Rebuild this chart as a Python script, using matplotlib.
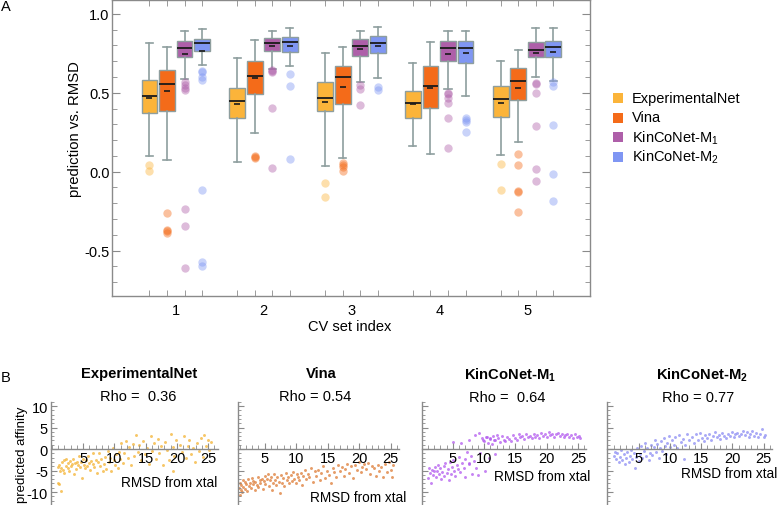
import matplotlib
matplotlib.use('Agg')
import matplotlib.pyplot as plt
from matplotlib.patches import Rectangle
from matplotlib.ticker import FixedLocator, MultipleLocator, FuncFormatter, NullFormatter

plt.rcParams['font.family'] = ['Liberation Sans', 'DejaVu Sans']
plt.rcParams['mathtext.fontset'] = 'custom'
plt.rcParams['mathtext.rm'] = 'Liberation Sans'
plt.rcParams['mathtext.bf'] = 'Liberation Sans:bold'
plt.rcParams['mathtext.it'] = 'Liberation Sans:italic'
plt.rcParams['axes.unicode_minus'] = False

# ---------------- data: panel A (box statistics per CV set) ----------------
cv_sets = [1, 2, 3, 4, 5]
series_names = ['ExperimentalNet', 'Vina', 'KinCoNet-M$_{\\mathregular{1}}$', 'KinCoNet-M$_{\\mathregular{2}}$']

exp_q1 = [0.371, 0.340, 0.382, 0.340, 0.344]
exp_med = [0.477, 0.445, 0.468, 0.432, 0.460]
exp_q3 = [0.582, 0.527, 0.565, 0.513, 0.540]
exp_lo = [0.097, 0.063, 0.038, 0.160, 0.105]
exp_hi = [0.814, 0.717, 0.749, 0.686, 0.703]
exp_mean = [0.464, 0.428, 0.439, 0.428, 0.432]
exp_out = [[0.042, 0.006], [], [-0.072, -0.162], [], [0.049, -0.116]]

vina_q1 = [0.382, 0.492, 0.428, 0.401, 0.454]
vina_med = [0.553, 0.608, 0.597, 0.540, 0.576]
vina_q3 = [0.643, 0.698, 0.667, 0.671, 0.654]
vina_lo = [0.076, 0.243, 0.084, 0.110, 0.186]
vina_hi = [0.787, 0.835, 0.787, 0.819, 0.772]
vina_mean = [0.508, 0.591, 0.538, 0.527, 0.532]
vina_out = [[-0.260, -0.367, -0.378, -0.388], [0.101, 0.090, 0.084],
            [0.055, 0.042, 0.027, 0.006], [], [0.112, 0.042, -0.120, -0.127, -0.257]]

m1_q1 = [0.728, 0.766, 0.730, 0.698, 0.724]
m1_med = [0.781, 0.812, 0.793, 0.781, 0.772]
m1_q3 = [0.825, 0.844, 0.842, 0.829, 0.819]
m1_lo = [0.584, 0.650, 0.570, 0.523, 0.597]
m1_hi = [0.888, 0.892, 0.892, 0.892, 0.907]
m1_mean = [0.743, 0.793, 0.774, 0.745, 0.751]
m1_out = [[0.570, 0.550, 0.527, 0.519, -0.234, -0.342, -0.612],
          [0.643, 0.640, 0.633, 0.403, 0.021],
          [0.549, 0.523, 0.422],
          [0.496, 0.490, 0.464, 0.435, 0.338, 0.150],
          [0.559, 0.555, 0.498, 0.291, 0.017, -0.057]]

m2_q1 = [0.766, 0.759, 0.749, 0.688, 0.724]
m2_med = [0.814, 0.819, 0.812, 0.781, 0.787]
m2_q3 = [0.840, 0.850, 0.857, 0.829, 0.829]
m2_lo = [0.675, 0.671, 0.591, 0.481, 0.576]
m2_hi = [0.903, 0.907, 0.916, 0.892, 0.907]
m2_mean = [0.766, 0.797, 0.793, 0.751, 0.759]
m2_out = [[0.639, 0.634, 0.597, 0.582, -0.114, -0.570, -0.595],
          [0.618, 0.540, 0.080],
          [0.534, 0.517],
          [0.340, 0.325, 0.312, 0.253],
          [0.565, 0.540, 0.295, -0.015, -0.188]]

# ---------------- data: panel B (predicted affinity vs RMSD) ----------------
exp_x = [0.9, 1.0, 1.1, 1.2, 1.3, 1.4, 1.5, 1.6, 1.8, 1.9, 2.0, 2.2, 2.3, 2.5, 2.6, 2.8, 2.9, 3.1, 3.2, 3.4,
         3.5, 3.7, 3.9, 4.0, 4.2, 4.3, 4.5, 4.7, 4.8, 5.0, 5.1, 5.3, 5.5, 5.6, 5.8, 6.0, 6.1, 6.3, 6.5, 6.6,
         6.8, 7.0, 7.2, 7.4, 7.5, 7.7, 7.9, 8.1, 8.3, 8.5, 8.7, 8.9, 9.1, 9.3, 9.5, 9.7, 9.9, 10.1, 10.3, 10.5,
         10.7, 10.9, 11.1, 11.4, 11.6, 11.9, 12.1, 12.4, 12.7, 13.0, 13.2, 13.5, 13.8, 14.0, 14.3, 14.6, 14.9,
         15.2, 15.5, 15.8, 16.0, 16.3, 16.6, 16.9, 17.2, 17.5, 17.8, 18.1, 18.4, 18.7, 19.0, 19.3, 19.4, 19.6,
         19.9, 20.5, 20.8, 21.1, 21.4, 21.7, 22.0, 22.3, 22.6, 22.9, 23.2, 23.5, 23.8, 24.1, 24.4, 24.7, 25.0,
         25.2, 25.4]
exp_y = [-4.2, -7.8, -3.6, -8.2, -5.0, -4.4, -9.7, -3.1, -4.8, -2.6, -5.6, -3.9, -2.2, -4.5, -3.3, -5.2, -2.8,
         -4.0, -3.5, -2.4, -5.8, -3.2, -4.6, -2.9, -3.8, -1.6, -4.2, -3.0, -6.7, -2.3, -3.6, -4.4, -2.6, -3.9,
         -1.5, -3.2, -4.9, -2.8, -3.5, -1.0, -4.1, -2.5, -5.6, -3.0, -0.9, -4.0, -2.2, -5.2, -3.4, -1.8, -4.6,
         -0.4, -3.1, -2.0, -5.0, 0.3, -2.6, -3.8, -1.2, -4.3, -0.6, -2.3, 1.5, -3.3, -1.0, 1.8, -2.0, 0.4, -3.6,
         1.2, -1.5, 3.2, -0.8, 0.9, -2.5, 1.8, -1.2, 0.2, -3.5, 3.0, -0.5, 1.3, -2.2, 2.3, -1.0, 0.8, -3.8, 1.6,
         -0.3, -2.5, 3.6, 0.5, -5.0, -1.6, 2.2, 1.0, -0.8, 3.0, -2.0, 0.6, 2.1, -1.2, 0.3, -3.0, 1.4, -0.4, 2.6,
         -1.8, 3.3, 0.8, 2.0, -0.2, 1.6]

vina_x = [0.9, 1.0, 1.1, 1.2, 1.3, 1.4, 1.5, 1.6, 1.8, 1.9, 2.0, 2.2, 2.3, 2.5, 2.6, 2.8, 2.9, 3.1, 3.2, 3.4,
          3.5, 3.7, 3.9, 4.0, 4.2, 4.3, 4.5, 4.7, 4.8, 5.0, 5.1, 5.3, 5.5, 5.6, 5.8, 6.0, 6.1, 6.3, 6.5, 6.6,
          6.8, 7.0, 7.2, 7.4, 7.5, 7.7, 7.9, 8.1, 8.3, 8.5, 8.7, 8.9, 9.1, 9.3, 9.5, 9.7, 9.9, 10.1, 10.3, 10.5,
          10.7, 10.9, 11.1, 11.4, 11.6, 11.9, 12.1, 12.4, 12.7, 13.0, 13.2, 13.5, 13.8, 14.0, 14.3, 14.6, 14.9,
          15.2, 15.5, 15.8, 16.0, 16.3, 16.6, 16.9, 17.2, 17.5, 17.8, 18.1, 18.4, 18.7, 19.0, 19.3, 19.6, 19.9,
          20.2, 20.5, 20.8, 21.1, 21.4, 21.7, 22.0, 22.3, 22.6, 22.9, 23.2, 23.5, 23.8, 24.1, 24.4, 24.7, 25.0,
          25.2, 25.4]
vina_y = [-9.0, -10.6, -7.8, -9.5, -8.3, -10.0, -7.2, -8.8, -9.3, -7.6, -8.1, -9.8, -7.0, -8.6, -7.9, -9.1,
          -6.8, -8.2, -7.4, -9.6, -7.7, -8.4, -6.6, -8.9, -7.2, -8.0, -6.9, -9.2, -7.5, -6.3, -8.1, -7.0, -5.8,
          -8.6, -7.3, -6.5, -9.4, -7.8, -5.9, -7.1, -8.3, -6.4, -7.6, -10.2, -6.0, -7.9, -6.8, -8.5, -5.6, -7.2,
          -6.5, -8.0, -6.1, -7.4, -5.3, -6.9, -7.8, -5.9, -6.6, -7.3, -5.5, -8.3, -6.2, -4.8, -7.0, -5.7, -6.5,
          -4.4, -7.6, -5.2, -6.3, -4.9, -7.2, -5.6, -3.9, -6.8, -5.0, -6.0, -8.0, -4.3, -5.4, -6.6, -3.6, -5.1,
          -4.2, -6.2, -4.7, -3.4, -5.5, -4.0, -6.8, -3.8, -4.9, -3.1, -5.3, -4.1, -3.5, -4.6, -3.3, -5.8, -3.9,
          -4.4, -6.3, -3.7, -5.0, -4.2, -6.6, -3.5, -5.4, -3.0, -4.8, -6.4, -3.6]

m1_x = [1.0, 1.2, 1.3, 1.5, 1.6, 1.8, 2.0, 2.1, 2.3, 2.5, 2.6, 2.8, 3.0, 3.1, 3.3, 3.5, 3.6, 3.8, 4.0, 4.2,
        4.4, 4.5, 4.7, 4.9, 5.0, 5.0, 5.2, 5.4, 5.6, 5.8, 6.0, 6.1, 6.3, 6.5, 6.7, 6.9, 7.0, 7.2, 7.5, 7.5,
        7.6, 7.9, 8.0, 8.3, 8.5, 8.7, 9.0, 9.2, 9.4, 9.6, 9.8, 10.0, 10.2, 10.3, 10.4, 10.6, 10.8, 10.9, 11.0,
        11.2, 11.4, 11.5, 11.7, 11.8, 12.0, 12.2, 12.5, 12.8, 13.1, 13.4, 13.7, 14.0, 14.3, 14.6, 14.9, 15.2,
        15.5, 15.8, 16.1, 16.4, 16.7, 17.0, 17.3, 17.6, 17.9, 18.2, 18.5, 18.8, 19.1, 19.4, 19.7, 20.0, 20.3,
        20.6, 20.9, 21.2, 21.5, 21.8, 22.1, 22.4, 22.7, 23.0, 23.3, 23.6, 23.9, 24.2, 24.5, 24.8, 25.1, 25.4]
m1_y = [-6.8, -4.5, -5.6, -7.8, -4.9, -6.0, -5.2, -4.1, -6.5, -5.0, -3.6, -5.8, -4.4, -6.9, -5.3, -4.0, -6.2,
        -3.3, -5.5, -4.7, -7.3, -3.0, -5.9, -4.2, -2.5, 1.7, -5.1, -6.3, -3.8, -4.6, -1.8, -5.4, 1.4, -3.2,
        -4.3, -6.5, -2.4, -0.8, 2.2, -3.5, -3.2, -1.5, -5.8, -2.7, 3.3, -4.3, -6.0, 3.8, -1.0, 2.6, 2.2, 1.9,
        -5.2, 2.9, 2.8, 1.5, -2.0, 2.6, 2.3, 1.2, 3.0, 2.1, -1.2, 2.0, 3.3, 2.6, 1.6, 3.1, 2.2, 1.8, 2.9, 2.4,
        1.9, 3.2, 2.6, 2.0, 3.4, 2.7, 3.0, 2.3, 3.5, 2.8, 3.1, 2.5, 3.6, 2.9, 3.3, 2.6, 3.7, 3.0, 3.5, 2.8,
        3.9, 3.2, 3.6, 2.9, 3.4, 3.8, 3.1, 3.5, 2.7, 3.3, 3.6, 2.9, 3.2, 2.5, 3.4, 2.8, 3.0, 2.6]

m2_x = [1.0, 1.2, 1.4, 1.6, 1.8, 2.0, 2.2, 2.4, 2.6, 2.8, 3.0, 3.2, 3.4, 3.6, 3.8, 4.0, 4.2, 4.4, 4.6, 4.8,
        5.0, 5.2, 5.4, 5.6, 5.8, 6.0, 6.2, 6.4, 6.6, 6.8, 7.0, 7.2, 7.4, 7.6, 7.8, 8.0, 8.2, 8.4, 8.6, 8.8,
        9.0, 9.2, 9.4, 9.6, 9.8, 10.0, 10.3, 10.6, 10.9, 11.2, 11.5, 11.8, 12.1, 12.2, 12.4, 12.7, 13.0,
        13.6, 13.9, 14.2, 14.5, 14.8, 15.1, 15.4, 15.7, 16.0, 16.3, 16.6, 16.9, 17.2, 17.5, 17.8, 18.1, 18.4,
        18.7, 19.0, 19.3, 19.6, 19.9, 20.2, 20.5, 20.8, 21.1, 21.4, 21.7, 22.0, 22.3, 22.6, 22.9, 23.2, 23.5,
        23.8, 24.1, 24.4, 24.7, 25.0, 25.3]
m2_y = [-1.5, -0.6, -2.4, -1.0, -3.0, -1.8, -0.3, -2.6, -1.2, -3.4, -2.0, -0.8, -2.9, -1.5, -0.2, -2.3, -1.0,
        -4.5, -1.8, 0.3, -2.7, -1.2, 0.8, -2.0, -0.5, 1.3, -1.6, 0.2, -2.5, -0.9, 0.9, -1.4, 0.5, 2.0, -0.7,
        1.1, -2.0, 0.3, 1.8, -0.4, 2.5, 0.7, -1.1, 1.5, 3.0, 0.4, 2.1, 1.0, 2.8, 0.2, 3.3, 1.6, 2.4, -2.3, 0.9,
        3.5, 2.0, 2.9, 1.4, 3.4, 2.2, 3.8, 2.6, 1.8, 3.2, 2.5, 3.6, 2.0, 3.0, 3.9, 2.7, 3.3, 2.4, 3.7, 3.0, 2.6,
        3.5, 3.1, 4.0, 2.8, 3.4, 3.8, 3.0, 3.6, 4.2, 3.2, 3.9, 2.9, 3.5, 4.1, 3.0, 3.7, 2.7, 3.4, 4.6, 2.8, 3.3]

rho_values = ['0.36', '0.54', '0.64', '0.77']
panel_titles = ['ExperimentalNet', 'Vina', 'KinCoNet-M$_{\\mathbf{1}}$', 'KinCoNet-M$_{\\mathbf{2}}$']

# ---------------- style ----------------
box_colors = ['#FBB43A', '#F46B19', '#AE5FA9', '#7F96F3']
scatter_colors = ['#F4B333', '#DD7B36', '#B35BEF', '#8C8DF3']
edge = '#8E9E9E'
spine_col = '#8a8a8a'

W, H = 778, 506
fig = plt.figure(figsize=(W / 100, H / 100), dpi=100)


def fx(px):
    return px / W


def fy(py):
    return 1 - py / H


# ---------------- panel A ----------------
ax = fig.add_axes([fx(112.3), fy(296.7), (590 - 112.3) / W, (296.7 - 1) / H])
offsets = [-0.3, -0.1, 0.1, 0.3]
series = [
    (exp_q1, exp_med, exp_q3, exp_lo, exp_hi, exp_mean, exp_out),
    (vina_q1, vina_med, vina_q3, vina_lo, vina_hi, vina_mean, vina_out),
    (m1_q1, m1_med, m1_q3, m1_lo, m1_hi, m1_mean, m1_out),
    (m2_q1, m2_med, m2_q3, m2_lo, m2_hi, m2_mean, m2_out),
]
all_pos = []
for k, (q1, med, q3, lo, hi, mean, out) in enumerate(series):
    col = box_colors[k]
    stats = [dict(q1=q1[i], med=med[i], q3=q3[i], whislo=lo[i], whishi=hi[i],
                  mean=mean[i], fliers=out[i]) for i in range(len(cv_sets))]
    pos = [c + offsets[k] for c in cv_sets]
    all_pos += pos
    ax.bxp(stats, positions=pos, widths=0.18, capwidths=0.08, patch_artist=True,
           showmeans=True, showfliers=True,
           boxprops=dict(facecolor=col, edgecolor=edge, linewidth=1.0),
           medianprops=dict(color='#1a1a1a', linewidth=1.3),
           whiskerprops=dict(color=edge, linewidth=1.2),
           capprops=dict(color=edge, linewidth=1.2),
           meanprops=dict(marker='_', markersize=5, markeredgecolor='#1a1a1a',
                          markeredgewidth=1.2),
           flierprops=dict(marker='o', markersize=6, markerfacecolor=col,
                           markeredgecolor='none', alpha=0.42))

ax.set_xlim(0.277, 5.717)
ax.set_ylim(-0.785, 1.087)
ax.xaxis.set_major_locator(FixedLocator(cv_sets))
ax.xaxis.set_major_formatter(FuncFormatter(lambda v, p: f'{int(round(v))}'))
ax.xaxis.set_minor_locator(FixedLocator(sorted(all_pos)))
ax.tick_params(axis='x', which='major', length=0, pad=5, labelsize=10.5)
ax.tick_params(axis='x', which='minor', direction='in', length=4, top=True, bottom=True,
               color=spine_col)
ax.yaxis.set_major_locator(FixedLocator([-0.5, 0.0, 0.5, 1.0]))
ax.yaxis.set_major_formatter(FuncFormatter(lambda v, p: f'{v:.1f}'))
ax.yaxis.set_minor_locator(MultipleLocator(0.1))
ax.tick_params(axis='y', which='major', direction='in', length=6, left=True, right=True,
               color=spine_col, pad=2, labelsize=10.5)
ax.tick_params(axis='y', which='minor', direction='in', length=3.5, left=True, right=True,
               color=spine_col)
for s in ax.spines.values():
    s.set_color(spine_col)
    s.set_linewidth(1.0)

fig.text(fx(75), fy(129), 'prediction vs. RMSD', rotation=90, ha='center', va='center',
         fontsize=10.7)
fig.text(fx(350), fy(326.7), 'CV set index', ha='center', va='center', fontsize=10.5)
fig.text(fx(0.5), fy(7), 'A', ha='left', va='center', fontsize=10.5)
fig.text(fx(0.5), fy(378), 'B', ha='left', va='center', fontsize=10.5)

# legend
leg_y = [99, 118.5, 138, 157.5]
for k in range(4):
    fig.add_artist(Rectangle((fx(613.3), fy(leg_y[k] + 5)), 10 / W, 10 / H,
                             transform=fig.transFigure, facecolor=box_colors[k],
                             edgecolor='none'))
    fig.text(fx(631.7), fy(leg_y[k]), series_names[k], ha='left', va='center', fontsize=10.5)

# ---------------- panel B ----------------
scatter_data = [(exp_x, exp_y), (vina_x, vina_y), (m1_x, m1_y), (m2_x, m2_y)]
panel_left = [50.7, 238.3, 421.7, 607.3]
panel_xmin = [-0.2, 0.8, 0.0, 0.0]
panel_xmax = [26.5, 26.3, 26.3, 26.3]
panel_scale = [6.25, 6.3, 6.25, 6.25]
title_pos = [(138.7, 374), (321.7, 374), (510, 375), (701.7, 375)]
rho_pos = [(138, 397), (315, 397), (506.7, 398), (698.3, 398)]
rho_fmt = ['Rho =  {}', 'Rho = {}', 'Rho =  {}', 'Rho = {}']
xlab_pos = [(217, 483), (406.7, 498), (590, 477), (777, 474)]
top_px = 402.7

for k in range(4):
    xs, ys = scatter_data[k]
    width_px = (panel_xmax[k] - panel_xmin[k]) * panel_scale[k]
    a = fig.add_axes([fx(panel_left[k]), 0, width_px / W, (H - top_px) / H])
    a.patch.set_alpha(0)
    a.scatter(xs, ys, s=4.5, color=scatter_colors[k], alpha=0.75, linewidths=0)
    a.set_xlim(panel_xmin[k], panel_xmax[k])
    a.set_ylim(-13.0, 11.0)
    a.spines['top'].set_visible(False)
    a.spines['right'].set_visible(False)
    a.spines['bottom'].set_position(('data', 0))
    for s in ('left', 'bottom'):
        a.spines[s].set_color(spine_col)
        a.spines[s].set_linewidth(1.0)
    a.xaxis.set_major_locator(FixedLocator([5, 10, 15, 20, 25]))
    a.xaxis.set_minor_locator(MultipleLocator(1))
    a.yaxis.set_major_locator(FixedLocator([-10, -5, 0, 5, 10]))
    a.yaxis.set_minor_locator(MultipleLocator(1))
    a.tick_params(axis='x', which='major', direction='in', length=4.5, color=spine_col,
                  pad=1.5, labelsize=10.5)
    a.tick_params(axis='x', which='minor', direction='in', length=3, color=spine_col)
    a.tick_params(axis='y', which='major', direction='in', length=4.5, color=spine_col,
                  pad=2, labelsize=10.5)
    a.tick_params(axis='y', which='minor', direction='in', length=2.5, color=spine_col)
    if k != 0:
        a.yaxis.set_major_formatter(NullFormatter())
    else:
        a.yaxis.set_major_formatter(FuncFormatter(lambda v, p: f'{int(v)}'))
    fig.text(fx(title_pos[k][0]), fy(title_pos[k][1]), panel_titles[k], ha='center',
             va='center', fontsize=10.6, fontweight='bold')
    fig.text(fx(rho_pos[k][0]), fy(rho_pos[k][1]), rho_fmt[k].format(rho_values[k]),
             ha='center', va='center', fontsize=10.5)
    fig.text(fx(xlab_pos[k][0]), fy(xlab_pos[k][1]), 'RMSD from xtal', ha='right',
             va='center', fontsize=9.8)

fig.text(fx(22), fy(455), 'predicted affinity', rotation=90, ha='center', va='center',
         fontsize=9.5)

fig.savefig('out.png', dpi=100)
